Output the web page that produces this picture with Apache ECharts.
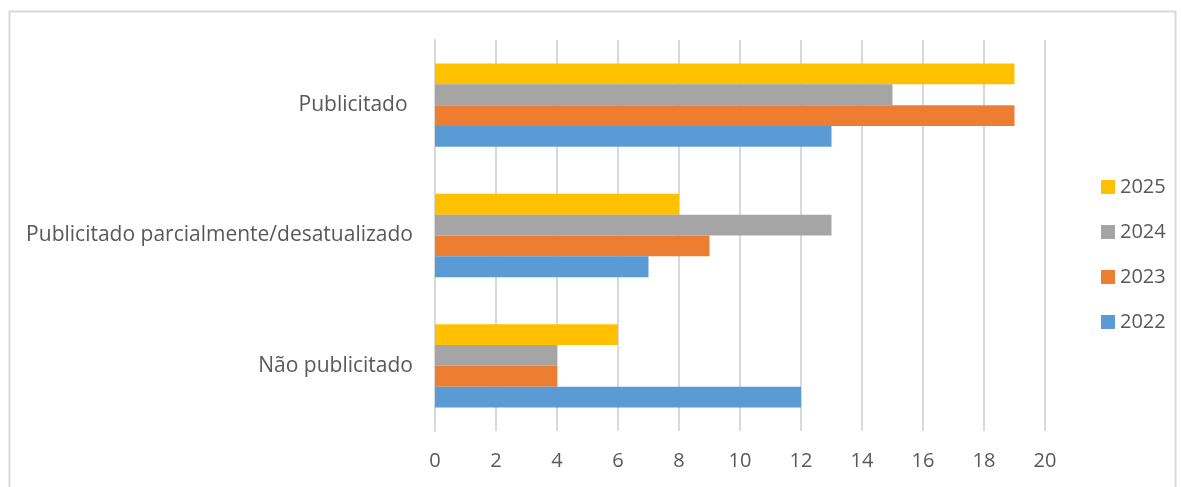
<!DOCTYPE html>
<html>
<head>
<meta charset="utf-8">
<script src="https://cdn.jsdelivr.net/npm/echarts@6/dist/echarts.min.js"></script>
<style>
  html, body { margin: 0; padding: 0; background: #fff; }
  #chart { width: 1181px; height: 487px; }
</style>
</head>
<body>
<div id="chart"></div>
<script>
// categories from bottom to top (category y axis starts at the bottom)
const categories = ['Não publicitado', 'Publicitado parcialmente/desatualizado', 'Publicitado '];
// series listed top to bottom inside each group
const years = ['2025', '2024', '2023', '2022'];
const colors = ['#FFC000', '#A5A5A5', '#ED7D31', '#5B9BD5'];
const values2025 = [6, 8, 19];
const values2024 = [4, 13, 15];
const values2023 = [4, 9, 19];
const values2022 = [12, 7, 13];
const seriesValues = [values2025, values2024, values2023, values2022];

const textColor = '#595959';
const lineColor = '#d9d9d9';
const fontFamily = '"Open Sans", "Liberation Sans", sans-serif';

let chart = echarts.init(document.getElementById('chart'));
chart.setOption({
  animation: false,
  textStyle: { fontFamily: fontFamily },
  graphic: [{
    type: 'rect',
    left: 7,
    top: 9,
    shape: { width: 1166, height: 520 },
    style: { fill: 'none', stroke: lineColor, lineWidth: 2 }
  }],
  legend: {
    orient: 'vertical',
    left: 1096,
    top: 172,
    itemWidth: 14,
    itemHeight: 14,
    itemGap: 25,
    icon: 'rect',
    data: years,
    textStyle: { color: textColor, fontSize: 20, fontFamily: fontFamily }
  },
  grid: {
    left: 435,
    right: 136,
    top: 40,
    bottom: 56,
    containLabel: false
  },
  xAxis: {
    type: 'value',
    min: 0,
    max: 20,
    interval: 2,
    axisLine: { show: false },
    axisTick: { show: false },
    axisLabel: { color: textColor, fontSize: 20, margin: 20 },
    splitLine: { lineStyle: { color: lineColor, width: 2 } }
  },
  yAxis: {
    type: 'category',
    data: categories,
    axisLine: { show: true, lineStyle: { color: lineColor, width: 2 } },
    axisTick: { show: false },
    axisLabel: { color: textColor, fontSize: 21, margin: 22 }
  },
  series: years.map((y, i) => ({
    name: y,
    type: 'bar',
    data: seriesValues[i],
    barGap: '0%',
    barCategoryGap: '36%',
    itemStyle: { color: colors[i] }
  }))
});
window.addEventListener('resize', function () {
  chart.resize();
});
</script>
</body>
</html>
